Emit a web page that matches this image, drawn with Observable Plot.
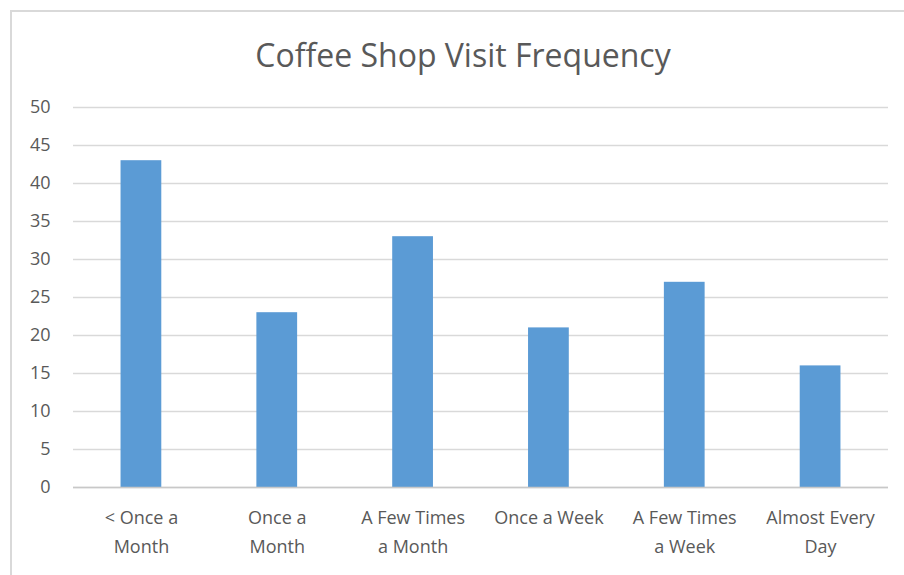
<!DOCTYPE html>
<html>
<head>
<meta charset="utf-8">
<script src="https://cdn.jsdelivr.net/npm/d3@7"></script>
<script src="https://cdn.jsdelivr.net/npm/@observablehq/plot@0.6"></script>
<style>
  html, body { margin: 0; padding: 0; background: #fff; }
  #chart { position: relative; width: 904px; height: 575px; overflow: hidden; }
  #frame { position: absolute; left: 10px; top: 10px; width: 900px; height: 570px;
           border-left: 2px solid #d9d9d9; border-top: 2px solid #d9d9d9; box-sizing: border-box; }
  #title { position: absolute; left: 0; top: 0; width: 926px; height: 90px; text-align: center;
           font-family: "Open Sans", sans-serif; font-size: 32px; color: #595959;
           line-height: 110px; letter-spacing: 0px; }
  #plot { position: absolute; left: 0; top: 90px; }
</style>
</head>
<body>
<div id="chart">
  <div id="frame"></div>
  <div id="title">Coffee Shop Visit Frequency</div>
  <div id="plot"></div>
</div>
<script>
const categories = ["< Once a\nMonth", "Once a\nMonth", "A Few Times\na Month", "Once a Week", "A Few Times\na Week", "Almost Every\nDay"];
const values = [43, 23, 33, 21, 27, 16];
const yTicks = [0, 5, 10, 15, 20, 25, 30, 35, 40, 45, 50];

const data = categories.map((c, i) => ({category: c, value: values[i]}));

const chart = Plot.plot({
  width: 904,
  height: 485,
  marginLeft: 73,
  marginRight: 16,
  marginTop: 17,
  marginBottom: 88,
  style: {fontFamily: "Open Sans, sans-serif", fontSize: "18px", color: "#595959", background: "transparent"},
  x: {domain: categories, paddingInner: 0.7, paddingOuter: 0.35, round: false, label: null},
  y: {domain: [0, 50], label: null},
  marks: [
    Plot.gridY(yTicks, {stroke: "#d9d9d9", strokeOpacity: 1, strokeWidth: 1.5}),
    Plot.barY(data, {x: "category", y: "value", fill: "#5b9bd5"}),
    Plot.ruleY([0], {stroke: "#c8c8c8", strokeWidth: 1.5}),
    Plot.axisY(yTicks, {tickSize: 0, tickPadding: 23, fill: "#595959", fontSize: 18}),
    Plot.axisX({tickSize: 0, tickPadding: 16, fill: "#595959", fontSize: 18, lineHeight: 1.6, textAnchor: "middle"})
  ]
});
document.getElementById("plot").appendChild(chart);
</script>
</body>
</html>
